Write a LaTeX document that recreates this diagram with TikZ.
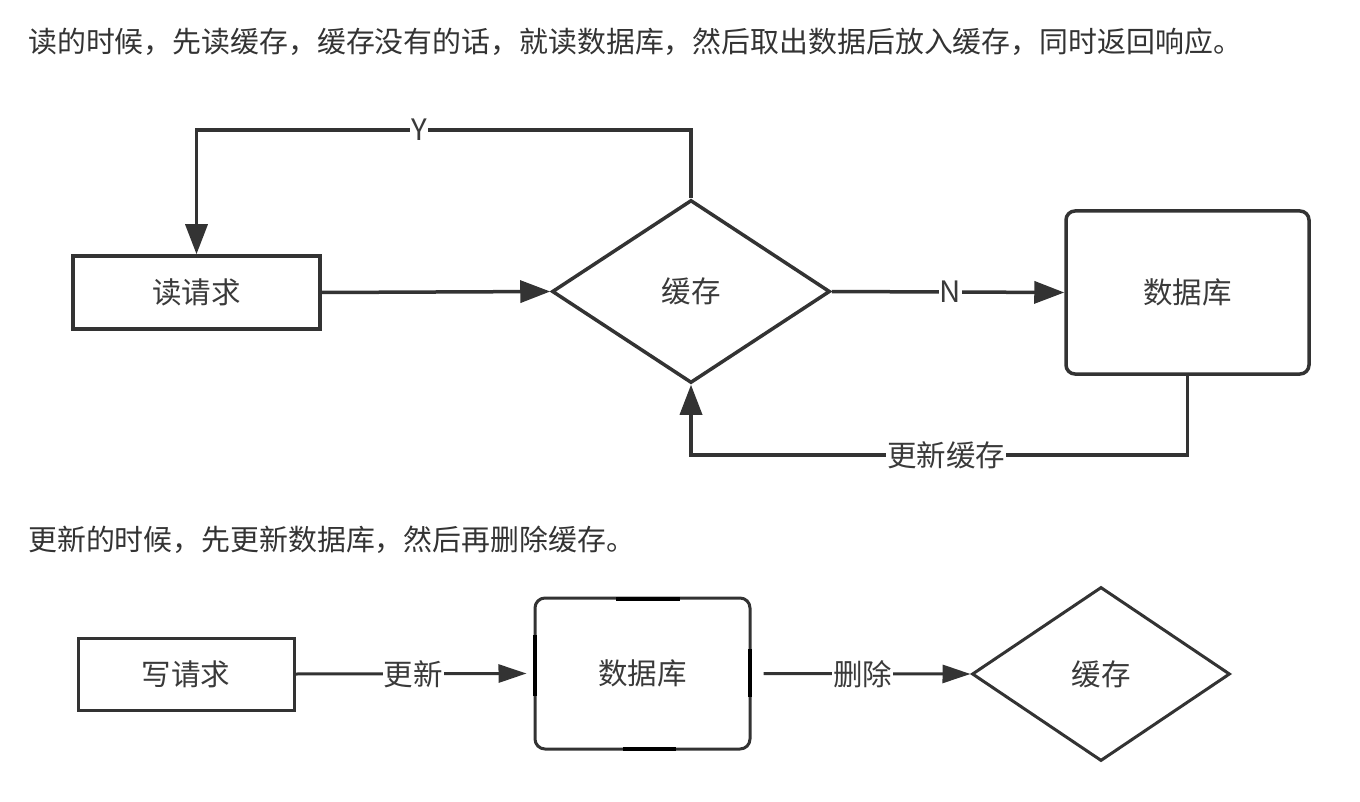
\documentclass[tikz,border=0pt]{standalone}
\usepackage{fontspec}
\setmainfont{Noto Sans CJK SC}
\usetikzlibrary{arrows.meta,shapes.geometric}
\definecolor{ink}{HTML}{333333}
\definecolor{txt}{HTML}{3A3A3A}
\begin{document}
\begin{tikzpicture}[x=1pt,y=-1pt,
  every node/.style={font=\fontsize{29.5}{33}\selectfont, text=txt},
  boxnode/.style={draw=ink, line width=3.5pt, rectangle, inner sep=0pt},
  dbnode/.style={boxnode, rounded corners=9pt},
  decision/.style={draw=ink, line width=3.5pt, diamond, inner sep=0pt},
  conn/.style={draw=ink, line width=3.5pt},
  arr/.style={conn, -{Triangle[length=30pt,width=22pt]}},
  arrs/.style={draw=ink, line width=3pt, -{Triangle[length=28pt,width=18pt]}},
  lbl/.style={fill=white, inner sep=1pt},
  heading/.style={anchor=west, inner sep=0pt, font=\fontsize{28.9}{32}\selectfont, text=ink},
  handle/.style={draw=black, line width=4pt}
]
\useasboundingbox (0,0) rectangle (1360,802);
\fill[white] (0,0) rectangle (1360,802);

% headings
\node[heading] (h1) at (28,42) {读的时候，先读缓存，缓存没有的话，就读数据库，然后取出数据后放入缓存，同时返回响应。};
\node[heading] (h2) at (28,540) {更新的时候，先更新数据库，然后再删除缓存。};

% top diagram
\node[boxnode, minimum width=247pt, minimum height=73pt] (req) at (196.5,292.5) {读请求};
\node[decision, minimum width=278pt, minimum height=183pt] (cache) at (691,291.5) {缓存};
\node[dbnode, minimum width=243pt, minimum height=163pt] (db) at (1187.5,292.5) {数据库};

\coordinate (y1) at (691,130);
\coordinate (y2) at (196.5,130);
\coordinate (u1) at (1187.5,455);
\coordinate (u2) at (691,455);

\draw[arr] (req.east) -- (cache.west);
\draw[arr] (cache.north) -- (y1) -- node[lbl,pos=0.55] {Y} (y2) -- (req.north);
\draw[arr] (cache.east) -- node[lbl,pos=0.51] {N} (db.west);
\draw[arr] (db.south) -- (u1) -- node[lbl,pos=0.486] {更新缓存} (u2) -- (cache.south);

% bottom diagram
\node[boxnode, line width=3pt, minimum width=216pt, minimum height=72pt] (wreq) at (186,674) {写请求};
\node[dbnode, line width=3pt, minimum width=215pt, minimum height=151pt, rounded corners=10pt] (db2) at (642.5,673.5) {数据库};
\node[decision, line width=3pt, minimum width=258pt, minimum height=174pt] (cache2) at (1101,674) {缓存};

\draw[arrs] (wreq.east) -- node[lbl,pos=0.51] {更新} ([xshift=-7pt]db2.west);
\draw[arrs] ([xshift=12pt]db2.east) -- node[lbl,pos=0.48] {删除} (cache2.west);

% selection handles on db2
\draw[handle] (616,599) -- (680,599);
\draw[handle] (535,635) -- (535,696);
\draw[handle] (750,649) -- (750,697);
\draw[handle] (623,749) -- (676,749);
\end{tikzpicture}
\end{document}
